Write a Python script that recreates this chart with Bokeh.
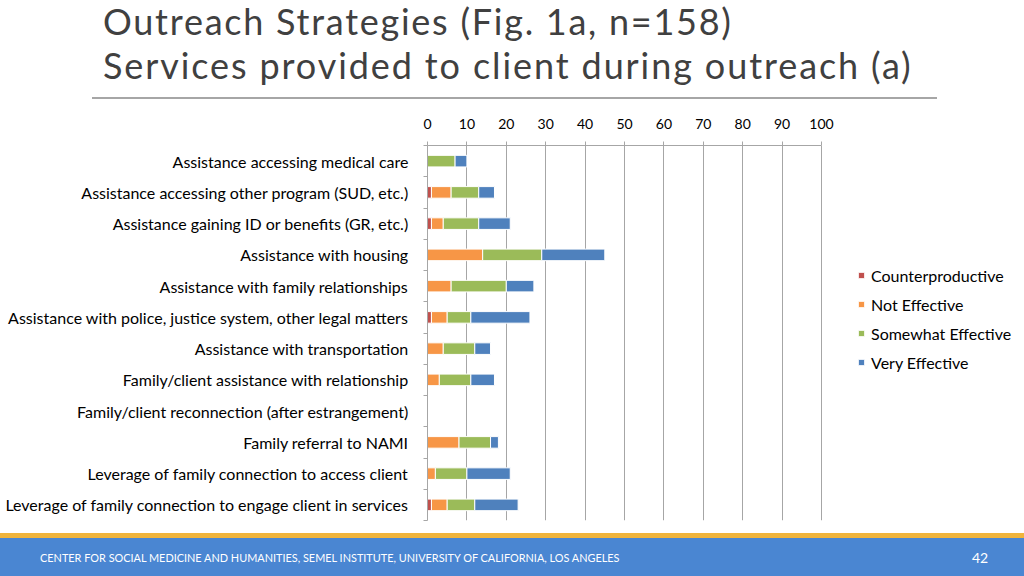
from bokeh.plotting import figure
from bokeh.layouts import column
from bokeh.models import (ColumnDataSource, Range1d, FixedTicker, Legend, LegendItem, Div)
from bokeh.embed import file_html
from bokeh.resources import INLINE

categories = [
    "Assistance accessing medical care",
    "Assistance accessing other program (SUD, etc.)",
    "Assistance gaining ID or benefits (GR, etc.)",
    "Assistance with housing",
    "Assistance with family relationships",
    "Assistance with police, justice system, other legal matters",
    "Assistance with transportation",
    "Family/client assistance with relationship",
    "Family/client reconnection (after estrangement)",
    "Family referral to NAMI",
    "Leverage of family connection to access client",
    "Leverage of family connection to engage client in services",
]
counterproductive = [0, 1, 1, 0, 0, 1, 0, 0, 0, 0, 0, 1]
not_effective = [0, 5, 3, 14, 6, 4, 4, 3, 0, 8, 2, 4]
somewhat_effective = [7, 7, 9, 15, 14, 6, 8, 8, 0, 8, 8, 7]
very_effective = [3, 4, 8, 16, 7, 15, 4, 6, 0, 2, 11, 11]
series_names = ["Counterproductive", "Not Effective", "Somewhat Effective", "Very Effective"]
series_colors = ["#C0504D", "#F79646", "#9BBB59", "#4F81BD"]
x_ticks = [0, 10, 20, 30, 40, 50, 60, 70, 80, 90, 100]

title_lines = ["Outreach Strategies (Fig. 1a, n=158)",
               "Services provided to client during outreach (a)"]
footer_text = "CENTER FOR SOCIAL MEDICINE AND HUMANITIES, SEMEL INSTITUTE, UNIVERSITY OF CALIFORNIA, LOS ANGELES"
page_number = "42"

FONT = "Lato"
W = 1024
HEAD_H, MAIN_H, FOOT_H = 105, 428, 43
FRAME_LEFT = 427          # px position of value 0
PX_PER_UNIT = 3.94        # px per value unit (0..100 spans 394 px)

# ---------- header ----------
head_html = (
    f'<div style="position:relative;width:{W}px;height:{HEAD_H}px;overflow:hidden;'
    f'font-family:{FONT};color:#404040;">'
    f'<div style="position:absolute;left:103px;top:0px;font-size:36px;line-height:43px;'
    f'letter-spacing:1.75px;white-space:nowrap;">{title_lines[0]}</div>'
    f'<div style="position:absolute;left:103px;top:44px;font-size:36px;line-height:43px;'
    f'letter-spacing:1.9px;white-space:nowrap;">{title_lines[1]}</div>'
    f'<div style="position:absolute;left:92px;top:97px;width:845px;height:2px;'
    f'background:#A6A6A6;"></div>'
    f'</div>'
)
head = Div(text=head_html, width=W, height=HEAD_H, margin=0)

# ---------- main chart ----------
n = len(categories)
ypos = [i + 0.5 for i in range(n)]
source = ColumnDataSource(dict(
    y=ypos, cp=counterproductive, ne=not_effective,
    se=somewhat_effective, ve=very_effective))

x_end = (W - FRAME_LEFT) / PX_PER_UNIT
p = figure(width=W, height=MAIN_H, output_backend="svg", toolbar_location=None,
           x_range=Range1d(0, x_end), y_range=Range1d(n, 0),
           x_axis_location="above",
           min_border_left=FRAME_LEFT, min_border_right=0,
           min_border_top=40, min_border_bottom=13, margin=0)
p.outline_line_color = None
p.background_fill_color = "white"
p.border_fill_color = "white"

renderers = p.hbar_stack(["cp", "ne", "se", "ve"], y="y", height=0.37, source=source,
                         color=series_colors, line_color="white", line_width=1)

xa = p.xaxis[0]
xa.ticker = FixedTicker(ticks=x_ticks)
xa.bounds = (0, 100)
xa.axis_line_color = "#A6A6A6"
xa.major_tick_line_color = "#A6A6A6"
xa.major_tick_out = 4
xa.major_tick_in = 0
xa.minor_tick_line_color = None
xa.major_label_text_font = FONT
xa.major_label_text_font_size = "14px"
xa.major_label_text_color = "#000000"
xa.major_label_standoff = 13

ya = p.yaxis[0]
ya.ticker = FixedTicker(ticks=ypos, minor_ticks=list(range(n + 1)))
ya.major_label_overrides = {y: c for y, c in zip(ypos, categories)}
ya.axis_line_color = "#A6A6A6"
ya.major_tick_line_color = None
ya.major_tick_out = 0
ya.major_tick_in = 0
ya.minor_tick_line_color = "#A6A6A6"
ya.minor_tick_out = 4
ya.minor_tick_in = 0
ya.major_label_text_font = FONT
ya.major_label_text_font_size = "16px"
ya.major_label_text_color = "#000000"
ya.major_label_standoff = 15

p.xgrid.grid_line_color = "#A6A6A6"
p.xgrid.ticker = FixedTicker(ticks=x_ticks)
p.ygrid.grid_line_color = None

legend = Legend(items=[LegendItem(label=nm, renderers=[r]) for nm, r in zip(series_names, renderers)],
                location=(430, 148), orientation="vertical", padding=0, margin=0,
                border_line_color=None, background_fill_alpha=0,
                glyph_width=8, glyph_height=8, label_height=20, label_standoff=6,
                spacing=9, label_text_font=FONT, label_text_font_size="16px",
                label_text_color="#000000")
p.add_layout(legend, "center")

# ---------- footer ----------
foot_html = (
    f'<div style="position:relative;width:{W}px;height:{FOOT_H}px;overflow:hidden;'
    f'font-family:{FONT};color:white;">'
    f'<div style="position:absolute;left:0;top:0;width:{W}px;height:5px;background:#F0B43C;"></div>'
    f'<div style="position:absolute;left:0;top:5px;width:{W}px;height:{FOOT_H - 5}px;background:#4A86D2;"></div>'
    f'<div style="position:absolute;left:40px;top:18px;font-size:10.9px;line-height:13px;'
    f'white-space:nowrap;">{footer_text}</div>'
    f'<div style="position:absolute;left:970px;top:16px;width:20px;text-align:center;'
    f'font-size:14px;line-height:17px;">{page_number}</div>'
    f'</div>'
)
foot = Div(text=foot_html, width=W, height=FOOT_H, margin=0)

layout = column(head, p, foot, spacing=0)
open("out.html", "w").write(file_html(layout, INLINE))
